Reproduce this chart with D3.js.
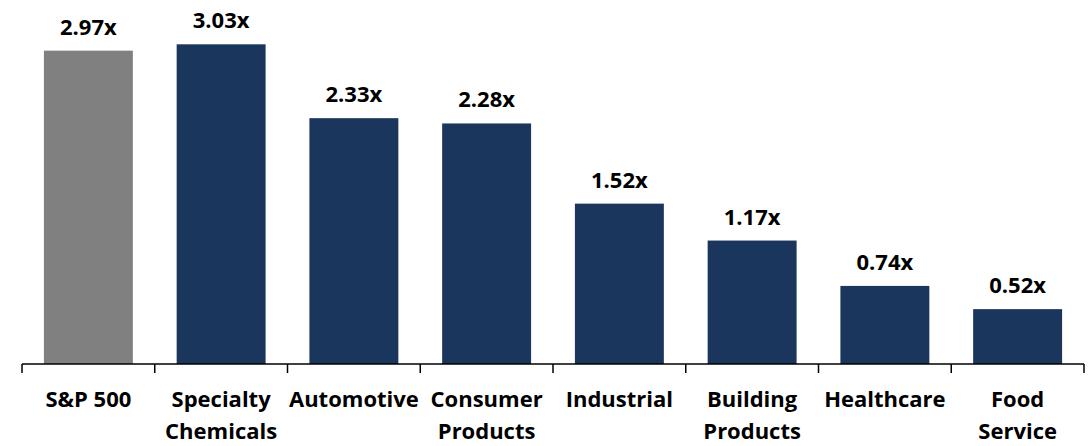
<!DOCTYPE html>
<html>
<head>
<meta charset="utf-8">
<script src="https://cdn.jsdelivr.net/npm/d3@7/dist/d3.min.js"></script>
<style>
  html, body { margin: 0; padding: 0; background: #ffffff; }
  svg { display: block; }
  text { font-family: "Open Sans", "Liberation Sans", sans-serif; font-weight: 700; fill: #000; }
</style>
</head>
<body>
<script>
// ---- data ----
const categories = ["S&P 500", "Specialty\nChemicals", "Automotive", "Consumer\nProducts",
                    "Industrial", "Building\nProducts", "Healthcare", "Food\nService"];
const values = [2.97, 3.03, 2.33, 2.28, 1.52, 1.17, 0.74, 0.52];
const valueLabels = ["2.97x", "3.03x", "2.33x", "2.28x", "1.52x", "1.17x", "0.74x", "0.52x"];
const highlight = [true, false, false, false, false, false, false, false];

// ---- layout ----
const W = 1090, H = 446;
const baseY = 364;
const svg = d3.select("body").append("svg").attr("width", W).attr("height", H);

const x = d3.scaleBand().domain(categories).range([22, 1084])
  .paddingInner(0.33).paddingOuter(0.165);
const y = d3.scaleLinear().domain([0, 3.45]).range([baseY, 0]);

const navy = "#1b365d", gray = "#808080";

// bars
svg.selectAll("rect.bar").data(categories).enter().append("rect")
  .attr("class", "bar")
  .attr("x", d => x(d))
  .attr("width", x.bandwidth())
  .attr("y", (d, i) => y(values[i]))
  .attr("height", (d, i) => y(0) - y(values[i]))
  .attr("fill", (d, i) => highlight[i] ? gray : navy);

// value labels
svg.selectAll("text.val").data(categories).enter().append("text")
  .attr("class", "val")
  .attr("x", d => x(d) + x.bandwidth() / 2)
  .attr("y", (d, i) => y(values[i]) - 16)
  .attr("text-anchor", "middle")
  .attr("font-size", 22)
  .text((d, i) => valueLabels[i]);

// axis line + ticks
const [r0, r1] = x.range();
svg.append("line").attr("x1", r0).attr("x2", r1).attr("y1", y(0)).attr("y2", y(0))
  .attr("stroke", "#000").attr("stroke-width", 1.5);
const tickXs = categories.map(d => x(d) - (x.step() - x.bandwidth()) / 2).concat([r1]);
svg.selectAll("line.tick").data(tickXs).enter().append("line")
  .attr("class", "tick")
  .attr("x1", d => d).attr("x2", d => d)
  .attr("y1", y(0)).attr("y2", y(0) + 9)
  .attr("stroke", "#000").attr("stroke-width", 1.5);

// category labels
const cat = svg.selectAll("text.cat").data(categories).enter().append("text")
  .attr("class", "cat")
  .attr("text-anchor", "middle")
  .attr("font-size", 22);
cat.each(function(d) {
  const t = d3.select(this);
  d.split("\n").forEach((line, j) => {
    t.append("tspan")
      .attr("x", x(d) + x.bandwidth() / 2)
      .attr("y", 407 + j * 31.5)
      .text(line);
  });
});
</script>
</body>
</html>
